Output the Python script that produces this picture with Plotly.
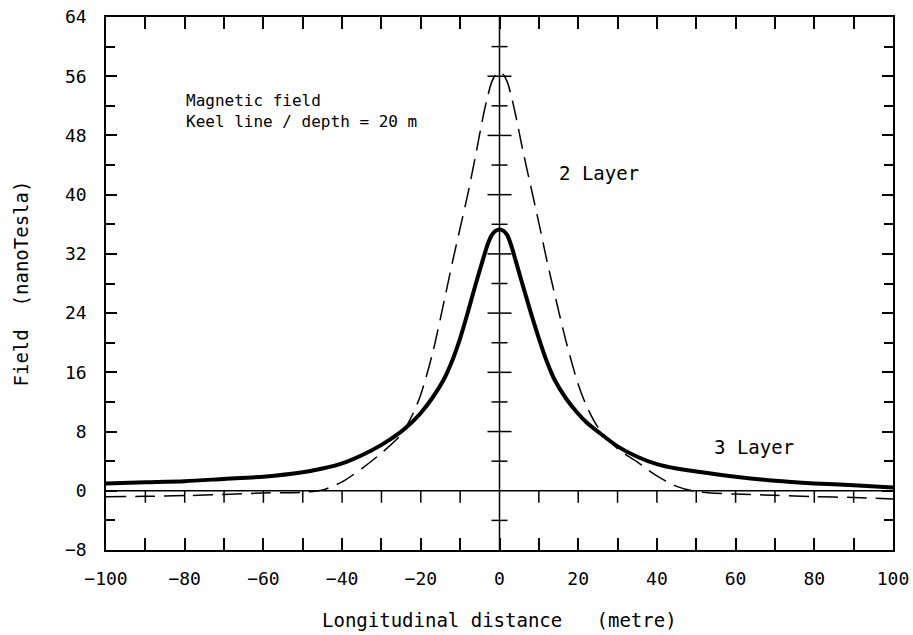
import plotly.graph_objects as go

# ---- data ----
distance = [-100, -90, -80, -70, -60, -50, -45, -40, -35, -30, -25, -22, -20, -17, -14, -12,
            -10, -8, -6, -4, -3, -2, -1, 0, 1, 2, 3, 4, 6, 8, 10, 12, 14, 17, 20, 22, 25,
            30, 35, 40, 45, 50, 60, 70, 80, 90, 100]

field_3_layer = [1.0, 1.15, 1.3, 1.6, 1.9, 2.5, 3.0, 3.7, 4.8, 6.2, 8.0, 9.4, 10.5, 12.6, 15.2, 17.6,
                 20.6, 24.2, 28.0, 31.6, 33.3, 34.5, 35.1, 35.3, 35.1, 34.5, 33.1, 31.3, 27.6, 24.0, 20.6, 17.5, 15.0, 12.4, 10.4, 9.3, 8.0,
                 6.0, 4.6, 3.6, 3.0, 2.6, 1.9, 1.35, 1.0, 0.75, 0.45]

field_2_layer = [-0.8, -0.75, -0.65, -0.5, -0.3, -0.2, 0.1, 1.2, 3.0, 5.1, 7.6, 10.4, 13.0, 18.6, 25.8, 30.8,
                 35.5, 40.2, 45.5, 51.0, 53.3, 55.2, 56.2, 56.6, 56.2, 55.2, 53.3, 51.0, 45.8, 41.0, 36.2, 31.2, 26.6, 20.0, 14.4, 11.6, 8.6,
                 5.7, 3.9, 2.0, 0.6, -0.1, -0.45, -0.6, -0.8, -0.9, -1.1]

x_tick_labels = [-100, -80, -60, -40, -20, 0, 20, 40, 60, 80, 100]
y_tick_labels = [-8, 0, 8, 16, 24, 32, 40, 48, 56, 64]

FONT = "DejaVu Sans Mono"

fig = go.Figure()
fig.add_trace(go.Scatter(x=distance, y=field_2_layer, mode="lines", name="2 Layer",
                         line=dict(color="black", width=1.5, dash="20px,9px", shape="spline", smoothing=0.8)))
fig.add_trace(go.Scatter(x=distance, y=field_3_layer, mode="lines", name="3 Layer",
                         line=dict(color="black", width=4, shape="spline", smoothing=0.8)))

shapes = []
# zero lines
shapes.append(dict(type="line", xref="x", yref="y", x0=-100, x1=100, y0=0, y1=0,
                   line=dict(color="black", width=1.5), layer="below"))
shapes.append(dict(type="line", xref="x", yref="y", x0=0, x1=0, y0=-8, y1=64,
                   line=dict(color="black", width=1.5), layer="below"))
# ticks on the horizontal zero line (downward)
for v in range(-90, 100, 10):
    if v == 0:
        continue
    shapes.append(dict(type="line", xref="x", yref="y", ysizemode="pixel", yanchor=0,
                       x0=v, x1=v, y0=0, y1=-12, line=dict(color="black", width=1.5)))
# crosses on the vertical zero line
for v in range(-4, 64, 4):
    if v == 0:
        continue
    half = 12 if v % 8 == 0 else 8
    shapes.append(dict(type="line", xref="x", yref="y", xsizemode="pixel", xanchor=0,
                       x0=-half, x1=half, y0=v, y1=v, line=dict(color="black", width=1.5)))

annotations = [
    dict(x=-80.2, y=54.3, xref="x", yref="y", xanchor="left", yanchor="top", showarrow=False,
         text="Magnetic field<br>Keel line / depth = 20 m", align="left",
         font=dict(family=FONT, size=16, color="black")),
    dict(x=14.6, y=42.9, xref="x", yref="y", xanchor="left", yanchor="middle", showarrow=False,
         text="2 Layer", font=dict(family=FONT, size=19, color="black")),
    dict(x=53.9, y=5.9, xref="x", yref="y", xanchor="left", yanchor="middle", showarrow=False,
         text="3 Layer", font=dict(family=FONT, size=19, color="black")),
    dict(x=0.5, y=0, xref="paper", yref="paper", yshift=-70, xanchor="center", yanchor="middle",
         showarrow=False, text="Longitudinal distance   (metre)",
         font=dict(family=FONT, size=19, color="black")),
    dict(x=0, y=0.5, xref="paper", yref="paper", xshift=-86, xanchor="center", yanchor="middle",
         showarrow=False, text="Field  (nanoTesla)", textangle=-90,
         font=dict(family=FONT, size=19, color="black")),
]

fig.update_layout(
    width=913, height=635,
    margin=dict(l=106, r=20, t=17, b=85, autoexpand=False),
    paper_bgcolor="white", plot_bgcolor="white",
    showlegend=False,
    shapes=shapes,
    annotations=annotations,
    font=dict(family=FONT, size=18, color="black"),
)
fig.update_xaxes(range=[-100, 100], tickvals=x_tick_labels, ticks="inside", ticklen=12, tickwidth=1.5,
                 tickcolor="black", showline=True, linecolor="black", linewidth=1.5, mirror="ticks",
                 showgrid=False, zeroline=False, ticklabelstandoff=12, automargin=False,
                 ticklabeloverflow="allow",
                 minor=dict(tickvals=[v for v in range(-90, 100, 20)], ticks="inside", ticklen=12,
                            tickwidth=1.5, tickcolor="black", showgrid=False),
                 tickfont=dict(family=FONT, size=18, color="black"))
fig.update_yaxes(range=[-8, 64], tickvals=y_tick_labels, ticks="inside", ticklen=11, tickwidth=1.5,
                 tickcolor="black", showline=True, linecolor="black", linewidth=1.5, mirror="ticks",
                 showgrid=False, zeroline=False, ticklabelstandoff=14, automargin=False,
                 ticklabeloverflow="allow",
                 minor=dict(tickvals=[v for v in range(-4, 64, 8)], ticks="inside", ticklen=9,
                            tickwidth=1.5, tickcolor="black", showgrid=False),
                 tickfont=dict(family=FONT, size=18, color="black"))

# remove the default page margin so the figure fills the window exactly
fig.write_html("out.html", config={"displayModeBar": False},
               post_script="document.body.style.margin='0px';document.body.style.overflow='hidden';")
